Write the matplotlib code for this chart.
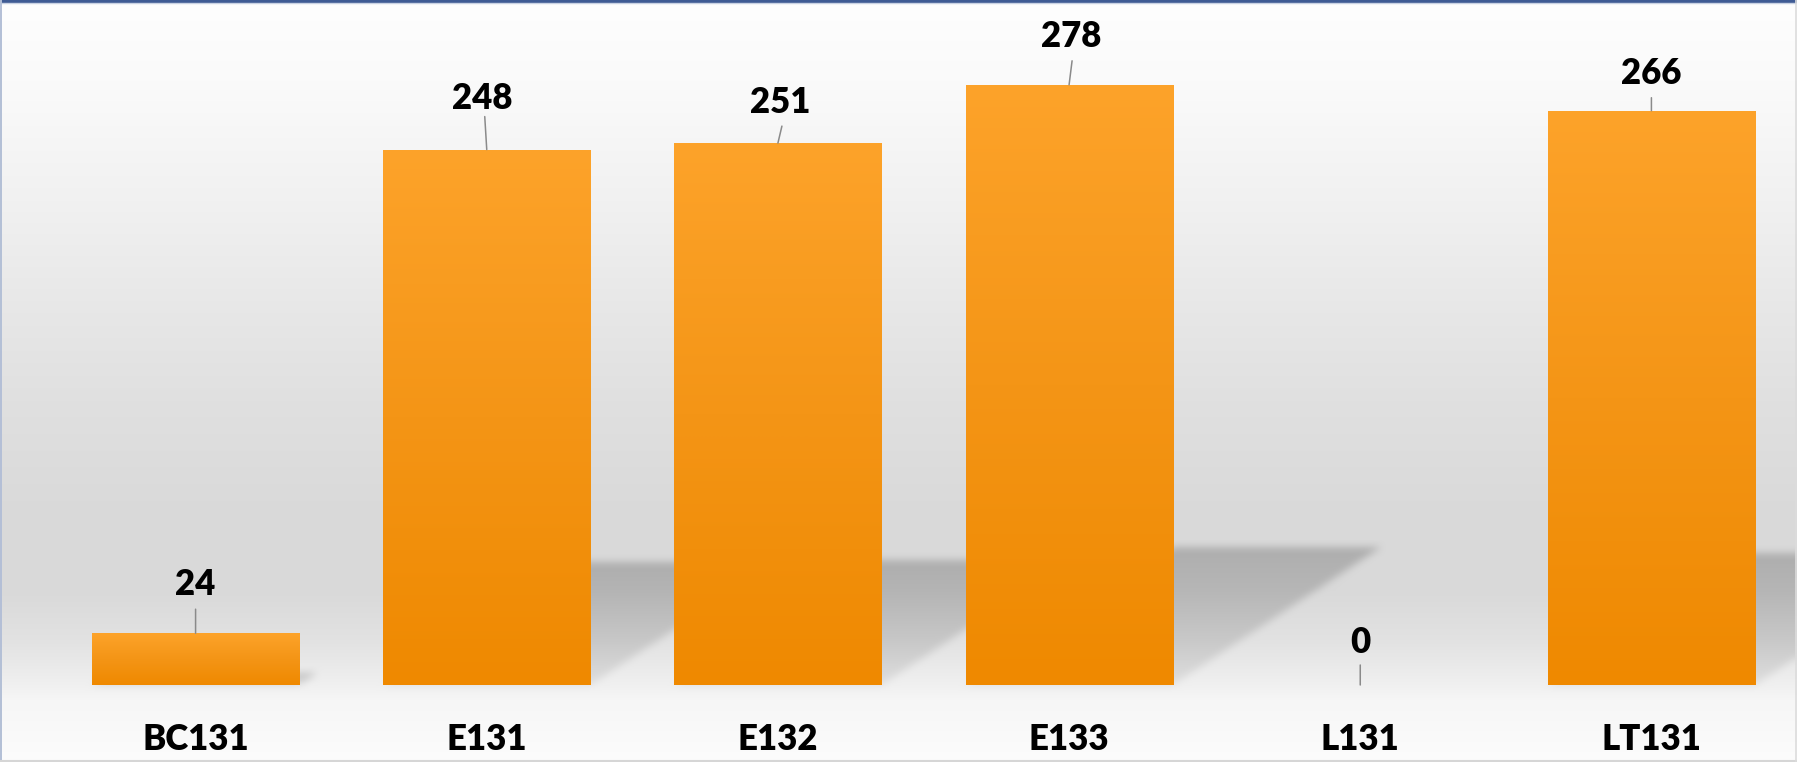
import numpy as np
import matplotlib
matplotlib.use("Agg")
import matplotlib.pyplot as plt
from matplotlib.colors import LinearSegmentedColormap
from matplotlib.path import Path

# ---------------- data ----------------
categories = ["BC131", "E131", "E132", "E133", "L131", "LT131"]
values = [24, 248, 251, 278, 0, 266]

# ---------------- style ----------------
W, H, DPI = 1797, 762, 100
FONT = ["Lato", "DejaVu Sans"]
FSIZE = 25
FWEIGHT = "heavy"
# value label centre offsets (pixels) from bar top, and leader-line top offsets
label_offsets_px = [(0, 50), (-4, 53), (2, 42), (2, 50), (0, 44), (0, 39)]
leader_tops_px = [(0, 24), (-2, 33), (4, 17), (3, 24), (0, 20), (0, 13)]
bar_width = 0.711
shadow_skew = 0.717 / 278.0   # x units per value unit
shadow_scale = 0.23           # vertical squash of shadow

fig = plt.figure(figsize=(W / DPI, H / DPI), dpi=DPI)

# main axes
ax_left_px, base_px, top_px = 50, 685, 10
ax = fig.add_axes([ax_left_px / W, (H - base_px) / H, (W - ax_left_px) / W, (base_px - top_px) / H],
                  zorder=2)
ax.set_facecolor("none")
x = np.arange(len(categories))
px_per_unit = 600.2 / 278.0
ax.set_xlim(-0.5, len(categories) - 0.5)
ax.set_ylim(0, (base_px - top_px) / px_per_unit)
for s in ax.spines.values():
    s.set_visible(False)
ax.set_yticks([])

# ---------------- background gradient with soft shadows ----------------
stops_y = [0, 100, 200, 300, 400, 500, 590, 640, 685, 700, 762]
stops_v = [254, 249, 241, 232, 224, 218, 217, 226, 240, 246, 252]
rows = np.interp(np.arange(H), stops_y, stops_v) / 255.0
bg_img = np.repeat(rows[:, None], W, axis=1)

yy, xx = np.mgrid[0:H, 0:W]
pts = np.column_stack([xx.ravel() + 0.5, (H - yy.ravel()) - 0.5])
shade = np.zeros((H, W))


def box_blur(a, r, axis):
    c = np.cumsum(np.pad(a, [(r + 1, r) if i == axis else (0, 0) for i in range(2)], mode="edge"), axis=axis)
    n = a.shape[axis]
    hi = np.take(c, np.arange(2 * r + 1, 2 * r + 1 + n), axis=axis)
    lo = np.take(c, np.arange(0, n), axis=axis)
    return (hi - lo) / (2 * r + 1)


for xi, v in zip(x, values):
    if v <= 0:
        continue
    x0, x1 = xi - bar_width / 2, xi + bar_width / 2
    hs = v * shadow_scale
    dx = v * shadow_skew
    poly = [(x0, 0), (x1, 0), (x1 + dx, hs), (x0 + dx, hs)]
    disp = ax.transData.transform(poly)
    m = Path(disp).contains_points(pts).reshape(H, W).astype(float)
    ytop = H - disp[2, 1]
    ybot = H - disp[0, 1]
    t = np.clip((yy - ytop) / max(ybot - ytop, 1), 0, 1)
    strength = 0.20 - 0.13 * t
    shade = np.maximum(shade, m * strength)

for _ in range(2):
    shade = box_blur(shade, 4, 0)
    shade = box_blur(shade, 4, 1)

bg_img = bg_img * (1 - shade)
bg = fig.add_axes([0, 0, 1, 1], zorder=0)
bg.imshow(np.dstack([bg_img] * 3), extent=(0, W, H, 0), aspect="auto", interpolation="nearest")
bg.set_xlim(0, W)
bg.set_ylim(H, 0)
bg.axis("off")
# frame lines
bg.plot([0, W], [1, 1], color="#3f5b94", lw=2.2, solid_capstyle="butt")
bg.plot([0, W], [3, 3], color="#c9d2e3", lw=1, solid_capstyle="butt")
bg.plot([0.6, 0.6], [0, H], color="#b3bfd6", lw=1.4)
bg.plot([0, W], [H - 1, H - 1], color="#d6d6d6", lw=1.5)
bg.plot([W - 0.6, W - 0.6], [0, H], color="#dcdcdc", lw=1.2)

# ---------------- bars with vertical gradient ----------------
bars = ax.bar(x, values, width=bar_width, color="none", edgecolor="none", zorder=3)
orange = LinearSegmentedColormap.from_list("orng", ["#EF8900", "#F49516", "#FDA32A"])
grad = np.linspace(0, 1, 256)[:, None]
for rect, v in zip(bars, values):
    if v <= 0:
        continue
    x0 = rect.get_x()
    im = ax.imshow(grad, extent=(x0, x0 + rect.get_width(), 0, v), origin="lower",
                   aspect="auto", cmap=orange, zorder=3, interpolation="bilinear")
    im.set_clip_path(rect)
ax.set_xlim(-0.5, len(categories) - 0.5)
ax.set_ylim(0, (base_px - top_px) / px_per_unit)

# ---------------- value labels with leader lines ----------------
for xi, v, (ldx, ldy), (tdx, tdy) in zip(x, values, label_offsets_px, leader_tops_px):
    ax.annotate("", xy=(xi, v), xytext=(tdx, tdy), textcoords="offset pixels",
                arrowprops=dict(arrowstyle="-", color="#8a8a8a", lw=1.1, shrinkA=0, shrinkB=0),
                zorder=4, annotation_clip=False)
    ax.annotate(f"{v}", xy=(xi, v), xytext=(ldx, ldy - 12), textcoords="offset pixels",
                ha="center", va="baseline", fontsize=FSIZE, fontweight=FWEIGHT,
                family=FONT, color="#000000", zorder=5, annotation_clip=False)

# ---------------- category labels ----------------
ax.set_xticks(x)
ax.set_xticklabels(categories, fontsize=FSIZE, fontweight=FWEIGHT, family=FONT, color="#000000")
ax.tick_params(axis="x", length=0, pad=27)

fig.savefig("out.png", dpi=DPI)
